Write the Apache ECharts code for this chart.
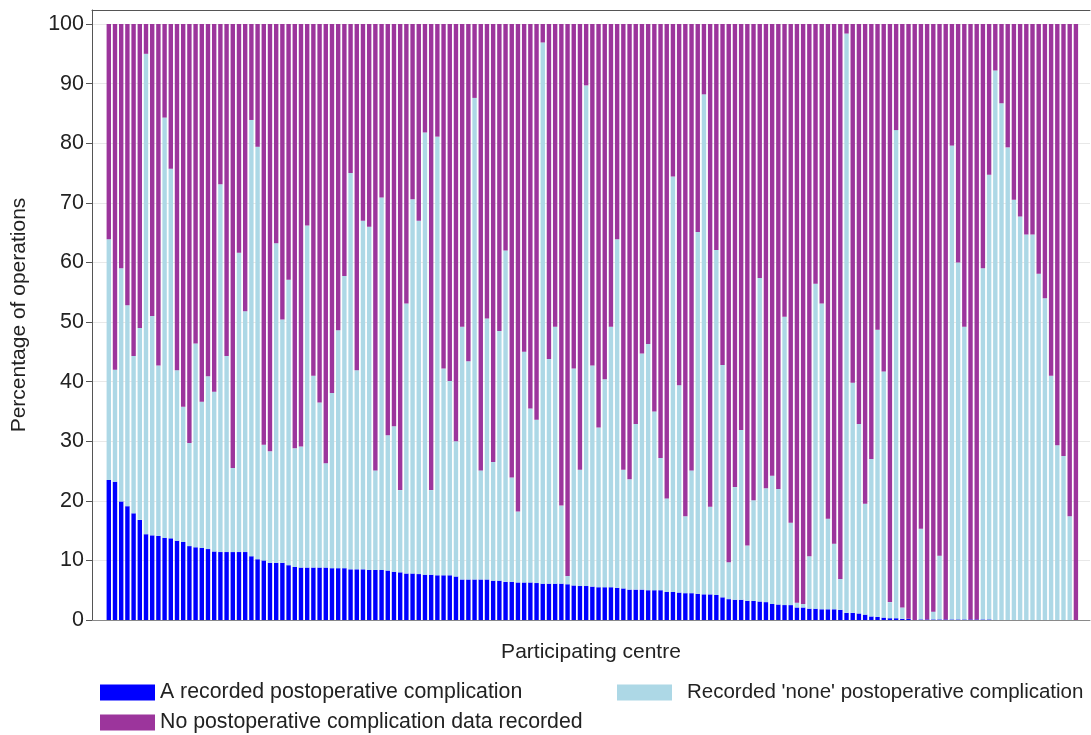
<!DOCTYPE html>
<html>
<head>
<meta charset="utf-8">
<script src="https://cdn.jsdelivr.net/npm/echarts@6/dist/echarts.min.js"></script>
<style>
html,body{margin:0;padding:0;background:#fff;}
#chart{width:1091px;height:735px;}
</style>
</head>
<body>
<div id="chart"></div>
<script>
// Share of operations per participating centre (percent)
const complication = [23.5,23.2,19.9,19.1,17.9,16.8,14.4,14.2,14.1,13.8,
13.7,13.3,13.1,12.4,12.2,12.1,11.9,11.5,11.4,11.4,
11.4,11.4,11.4,10.7,10.2,10.0,9.6,9.6,9.6,9.2,
8.9,8.8,8.8,8.8,8.8,8.8,8.7,8.7,8.7,8.5,
8.5,8.5,8.4,8.4,8.4,8.3,8.1,8.0,7.8,7.8,
7.7,7.6,7.6,7.5,7.5,7.5,7.3,6.8,6.8,6.8,
6.8,6.8,6.6,6.6,6.4,6.4,6.3,6.3,6.3,6.2,
6.1,6.1,6.1,6.1,6.0,5.8,5.7,5.7,5.6,5.5,
5.5,5.5,5.4,5.3,5.1,5.1,5.1,5.0,5.0,5.0,
4.7,4.7,4.6,4.5,4.5,4.4,4.3,4.3,4.2,3.8,
3.5,3.4,3.4,3.2,3.2,3.1,3.0,2.7,2.6,2.5,
2.5,2.1,2.1,1.9,1.9,1.8,1.8,1.8,1.7,1.2,
1.2,1.1,0.9,0.6,0.5,0.4,0.3,0.3,0.2,0.2,
0,0.1,0.1,0.1,0.1,0.1,0.1,0.1,0.1,0.1,
0.1,0.1,0.1,0,0,0,0,0,0,0,
0,0,0,0,0,0,0];

const noneRecorded = [40.4,18.8,39.1,33.7,26.4,32.2,80.6,36.8,28.6,70.5,
62.0,28.6,22.7,17.3,34.2,24.5,29.0,26.8,61.7,32.9,
14.1,50.2,40.4,73.2,69.2,19.4,18.7,53.6,40.8,47.9,
19.9,20.3,57.4,32.2,27.7,17.5,29.4,39.9,49.0,66.5,
33.4,58.5,57.6,16.7,62.5,22.7,24.4,13.8,45.3,62.8,
59.3,74.2,14.2,73.6,34.7,32.6,22.7,42.4,36.6,80.8,
18.3,43.8,19.9,41.9,55.6,17.5,11.9,38.7,29.2,27.4,
90.8,37.7,43.1,13.1,1.4,36.4,19.5,84.0,37.1,26.8,
34.9,43.7,58.5,19.9,18.5,27.8,39.6,41.3,30.0,22.2,
15.7,69.7,34.8,12.9,20.6,60.7,83.9,14.7,57.9,39.0,
6.2,18.9,28.5,9.3,16.9,54.3,19.1,21.5,19.4,48.4,
13.8,0.8,0.6,8.8,54.5,51.3,15.2,11.0,5.2,97.2,
38.6,31.8,18.6,26.4,48.2,41.3,2.7,81.9,1.9,0,
0,15.2,0,1.3,10.7,0,79.5,59.9,49.1,0,
0,58.9,74.6,92.2,86.7,79.3,70.5,67.7,64.7,64.7,
58.1,54.0,41.0,29.3,27.5,17.4,0];

const noData = [36.1,58.0,41.0,47.2,55.7,51.0,5.0,49.0,57.3,15.7,
24.3,58.1,64.2,70.3,53.6,63.4,59.1,61.7,26.9,55.7,
74.5,38.4,48.2,16.1,20.6,70.6,71.7,36.8,49.6,42.9,
71.2,70.9,33.8,59.0,63.5,73.7,61.9,51.4,42.3,25.0,
58.1,33.0,34.0,74.9,29.1,69.0,67.5,78.2,46.9,29.4,
33.0,18.2,78.2,18.9,57.8,59.9,70.0,50.8,56.6,12.4,
74.9,49.4,73.5,51.5,38.0,76.1,81.8,55.0,64.5,66.4,
3.1,56.2,50.8,80.8,92.6,57.8,74.8,10.3,57.3,67.7,
59.6,50.8,36.1,74.8,76.4,67.1,55.3,53.7,65.0,72.8,
79.6,25.6,60.6,82.6,74.9,34.9,11.8,81.0,37.9,57.2,
90.3,77.7,68.1,87.5,79.9,42.6,77.9,75.8,78.0,49.1,
83.7,97.1,97.3,89.3,43.6,46.9,83.0,87.2,93.1,1.6,
60.2,67.1,80.5,73.0,51.3,58.3,97.0,17.8,97.9,99.8,
100,84.7,99.9,98.6,89.2,99.9,20.4,40.0,50.8,99.9,
99.9,41.0,25.3,7.8,13.3,20.7,29.5,32.3,35.3,35.3,
41.9,46.0,59.0,70.7,72.5,82.6,100];

const centres = complication.map((_, i) => 'Centre ' + (i + 1));
const yTicks = [0,10,20,30,40,50,60,70,80,90,100];
const seriesNames = ['A recorded postoperative complication',
  "Recorded 'none' postoperative complication",
  'No postoperative complication data recorded'];
const colors = ['#0000FF', '#ADD8E6', '#9C359C'];

const FONT = '"Liberation Sans", Arial, sans-serif';
const Y_MAX = 102.35;

const chart = echarts.init(document.getElementById('chart'), null, {renderer: 'canvas'});
const legendBase = {
  orient: 'horizontal', itemWidth: 55, itemHeight: 16, itemGap: 10, padding: 0,
  icon: 'rect', selectedMode: false
};
const legendText = (size, pad) => ({fontFamily: FONT, fontSize: size, color: '#222', padding: [0, 0, 0, pad]});
chart.setOption({
  animation: false,
  backgroundColor: '#fff',
  color: colors,
  grid: [
    {left: 92, right: 1, top: 10, bottom: 115, containLabel: false},
    {left: 105.7, right: 12, top: 10, bottom: 115, containLabel: false}
  ],
  legend: [
    Object.assign({}, legendBase, {data: [seriesNames[0]], left: 100, top: 682, textStyle: legendText(21.3, 0)}),
    Object.assign({}, legendBase, {data: [seriesNames[1]], left: 617, top: 682, textStyle: legendText(20.5, 10)}),
    Object.assign({}, legendBase, {data: [seriesNames[2]], left: 100, top: 712, textStyle: legendText(21.3, 0)})
  ],
  xAxis: [{
    gridIndex: 0, type: 'value', min: 0, max: 1,
    name: 'Participating centre', nameLocation: 'middle', nameGap: 22,
    nameTextStyle: {fontFamily: FONT, fontSize: 21, color: '#222'},
    axisLine: {show: true, lineStyle: {color: '#8a8a8a', width: 1}},
    axisTick: {show: false}, axisLabel: {show: false}, splitLine: {show: false}
  }, {
    gridIndex: 0, type: 'value', position: 'top', min: 0, max: 1,
    axisLine: {show: true, lineStyle: {color: '#555', width: 1}},
    axisTick: {show: false}, axisLabel: {show: false}, splitLine: {show: false}
  }, {
    gridIndex: 1, type: 'category', data: centres, boundaryGap: true,
    axisLine: {show: false}, axisTick: {show: false}, axisLabel: {show: false}, splitLine: {show: false}
  }],
  yAxis: [{
    gridIndex: 0, type: 'value', min: 0, max: Y_MAX, interval: 10,
    name: 'Percentage of operations', nameLocation: 'middle', nameGap: 62,
    nameTextStyle: {fontFamily: FONT, fontSize: 21, color: '#222'},
    axisLine: {show: true, lineStyle: {color: '#555', width: 1}},
    axisTick: {show: true, length: 6, customValues: yTicks, lineStyle: {color: '#555'}},
    axisLabel: {fontFamily: FONT, fontSize: 21.5, color: '#222', margin: 8,
      formatter: v => (yTicks.indexOf(Math.round(v * 100) / 100) >= 0 ? String(v) : '')},
    splitLine: {show: true, lineStyle: {color: '#e8e8e8', width: 1}}
  }, {
    gridIndex: 1, type: 'value', min: 0, max: Y_MAX,
    axisLine: {show: false}, axisTick: {show: false}, axisLabel: {show: false}, splitLine: {show: false}
  }],
  series: [
    {name: seriesNames[0], type: 'bar', stack: 'total', xAxisIndex: 2, yAxisIndex: 1, barWidth: 4.4, data: complication, itemStyle: {color: colors[0]}},
    {name: seriesNames[1], type: 'bar', stack: 'total', xAxisIndex: 2, yAxisIndex: 1, barWidth: 4.4, data: noneRecorded, itemStyle: {color: colors[1]}},
    {name: seriesNames[2], type: 'bar', stack: 'total', xAxisIndex: 2, yAxisIndex: 1, barWidth: 4.4, data: noData, itemStyle: {color: colors[2]}}
  ]
});
</script>
</body>
</html>
